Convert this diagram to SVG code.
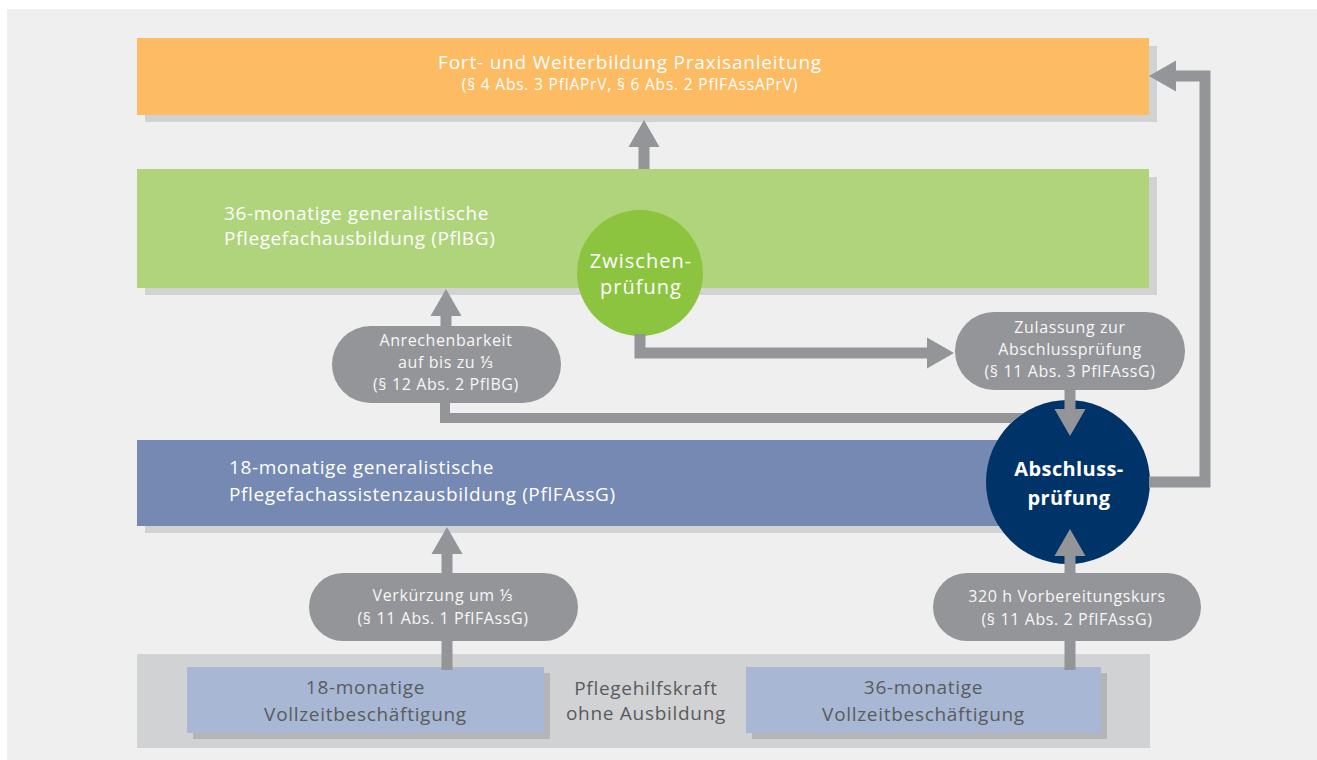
<svg xmlns="http://www.w3.org/2000/svg" width="1317" height="760" viewBox="0 0 1317 760">
<defs>
<style>
text{font-family:"Open Sans","Noto Sans","DejaVu Sans",sans-serif;}
.shadow{fill:#d1d2d4;}
.bshadow{fill:#b4b5b7;}
.wt{fill:#ffffff;}
.box{font-size:19px;letter-spacing:0.6px;}
.pill{fill:#939598;}
.pt{fill:#f7f7f7;font-size:16px;letter-spacing:0.6px;text-anchor:middle;}
.bt{fill:#5a5b5d;font-size:19px;letter-spacing:0.7px;text-anchor:middle;}
.conn{fill:none;stroke:#939598;stroke-width:11;stroke-linejoin:miter;}
.connf{fill:#939598;stroke:none;}
</style>
<marker id="ah" markerUnits="userSpaceOnUse" markerWidth="28" markerHeight="32" refX="1" refY="15.5" orient="auto" viewBox="0 0 28 31">
<path d="M0,0 L27,15.5 L0,31 Z" fill="#939598"/>
</marker>
</defs>
<rect width="1317" height="760" fill="#ffffff"/>
<rect x="7" y="9" width="1310" height="751" fill="#efefef"/>

<g id="fortbildung">
<rect class="shadow" x="145" y="46" width="1012" height="76"/>
<rect x="137" y="38" width="1012" height="77" fill="#fdbb63"/>
<text class="wt" x="630" y="69" text-anchor="middle" font-size="19" letter-spacing="0.8">Fort- und Weiterbildung Praxisanleitung</text>
<text class="wt" x="630" y="90" text-anchor="middle" font-size="15.5" letter-spacing="0.8">(§ 4 Abs. 3 PflAPrV, § 6 Abs. 2 PflFAssAPrV)</text>
</g>

<g id="pflegefachausbildung">
<rect class="shadow" x="145" y="177" width="1012" height="118"/>
<rect x="137" y="169" width="1012" height="119" fill="#afd47b"/>
<text class="wt box" x="224" y="220">36-monatige generalistische</text>
<text class="wt box" x="224" y="245">Pflegefachausbildung (PflBG)</text>
</g>

<g id="assistenzausbildung">
<rect class="shadow" x="145" y="448" width="900" height="85"/>
<rect x="137" y="440" width="900" height="86" fill="#7589b2"/>
<text class="wt box" x="229" y="474">18-monatige generalistische</text>
<text class="wt box" x="229" y="501">Pflegefachassistenzausbildung (PflFAssG)</text>
</g>

<g id="pflegehilfskraft">
<rect class="shadow" x="137" y="654" width="1013" height="94"/>
<text class="bt" x="646" y="695">Pflegehilfskraft</text>
<text class="bt" x="646" y="720">ohne Ausbildung</text>
</g>

<g id="vollzeit18">
<rect class="bshadow" x="193" y="673" width="357" height="66"/>
<rect x="187" y="667" width="357" height="66" fill="#a8b7d3"/>
<text class="bt" x="365.5" y="694">18-monatige</text>
<text class="bt" x="365.5" y="721">Vollzeitbeschäftigung</text>
</g>

<g id="vollzeit36">
<rect class="bshadow" x="752" y="673" width="355" height="66"/>
<rect x="746" y="667" width="355" height="66" fill="#a8b7d3"/>
<text class="bt" x="923.5" y="694">36-monatige</text>
<text class="bt" x="923.5" y="721">Vollzeitbeschäftigung</text>
</g>

<g id="zwischenpruefung">
<circle cx="640" cy="273" r="63" fill="#8cc43f"/>
<text class="wt" x="641" y="268" text-anchor="middle" font-size="20" letter-spacing="1">Zwischen-</text>
<text class="wt" x="641" y="294" text-anchor="middle" font-size="20" letter-spacing="1">prüfung</text>
</g>

<g id="abschlusspruefung">
<circle cx="1068" cy="482" r="82" fill="#003469"/>
<text class="wt" x="1069" y="476" text-anchor="middle" font-size="20" font-weight="bold" letter-spacing="0.4">Abschluss-</text>
<text class="wt" x="1069" y="505" text-anchor="middle" font-size="20" font-weight="bold" letter-spacing="0.4">prüfung</text>
</g>

<g id="connectors">
<path class="conn" d="M644,169 V146" marker-end="url(#ah)"/>
<path class="conn" d="M640,334 V353 H928" marker-end="url(#ah)"/>
<path class="connf" d="M440,400 V423 H1011.1 A82,82 0 0 1 1023.7,413 H450 V400 Z"/>
<path class="conn" d="M446,330 V315" marker-end="url(#ah)"/>
<path class="conn" d="M1070,385 V410" marker-end="url(#ah)"/>
<path class="conn" d="M447,670 V636"/>
<path class="conn" d="M447,578 V553" marker-end="url(#ah)"/>
<path class="conn" d="M1070,670 V636"/>
<path class="conn" d="M1070,578 V555" marker-end="url(#ah)"/>
<path class="conn" d="M1149,482 H1205 V76 H1175" marker-end="url(#ah)"/>
</g>

<g id="anrechenbarkeit">
<rect class="pill" x="332" y="326" width="229" height="77" rx="38.5"/>
<text class="pt" x="446" y="346">Anrechenbarkeit</text>
<text class="pt" x="446" y="368">auf bis zu ⅓</text>
<text class="pt" x="446" y="390">(§ 12 Abs. 2 PflBG)</text>
</g>

<g id="zulassung">
<rect class="pill" x="955" y="312" width="230" height="78" rx="39"/>
<text class="pt" x="1070" y="333">Zulassung zur</text>
<text class="pt" x="1070" y="355">Abschlussprüfung</text>
<text class="pt" x="1070" y="377">(§ 11 Abs. 3 PflFAssG)</text>
</g>

<g id="verkuerzung">
<rect class="pill" x="309" y="573" width="269" height="68" rx="34"/>
<text class="pt" x="443" y="601">Verkürzung um ⅓</text>
<text class="pt" x="443" y="624">(§ 11 Abs. 1 PflFAssG)</text>
</g>

<g id="vorbereitungskurs">
<rect class="pill" x="933" y="573" width="268" height="68" rx="34"/>
<text class="pt" x="1067" y="602">320 h Vorbereitungskurs</text>
<text class="pt" x="1067" y="625">(§ 11 Abs. 2 PflFAssG)</text>
</g>
</svg>
